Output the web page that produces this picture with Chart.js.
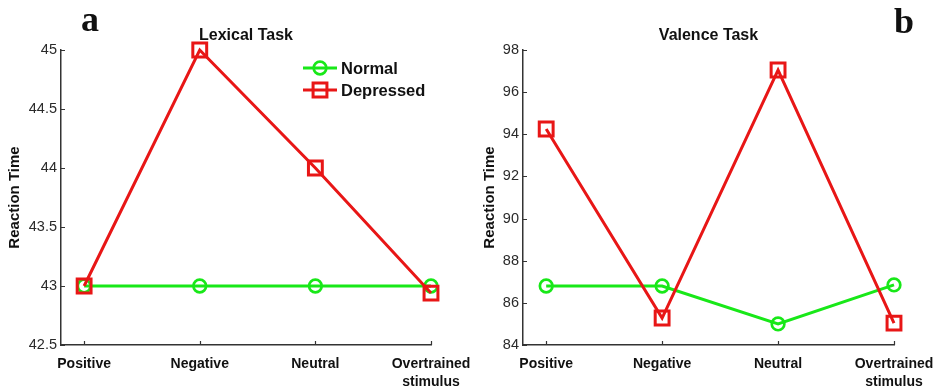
<!DOCTYPE html>
<html>
<head>
<meta charset="utf-8">
<script src="https://cdn.jsdelivr.net/npm/chart.js@4/dist/chart.umd.min.js"></script>
<style>
  html, body { margin: 0; padding: 0; background: #fff; }
  #wrap { position: relative; width: 938px; height: 389px; overflow: hidden; }
  .panel { position: absolute; top: 0; height: 389px; }
</style>
</head>
<body>
<div id="wrap">
  <div class="panel" style="left:0;width:470px"><canvas id="lexical" width="470" height="389"></canvas></div>
  <div class="panel" style="left:470px;width:468px"><canvas id="valence" width="468" height="389"></canvas></div>
</div>
<script>
// Stimulus categories along the x axis
const categories = ['Positive', 'Negative', 'Neutral', ['Overtrained', 'stimulus']];
const seriesNames = ['Normal', 'Depressed'];

// Mean reaction times, lexical task
const lexicalNormal    = [43, 43, 43, 43];
const lexicalDepressed = [43, 45, 44, 42.94];

// Mean reaction times, valence task
const valenceNormal    = [86.8, 86.8, 85.0, 86.85];
const valenceDepressed = [94.25, 85.28, 97.05, 85.04];

// Y tick values
const lexicalTicks = [42.5, 43, 43.5, 44, 44.5, 45];
const valenceTicks = [84, 86, 88, 90, 92, 94, 96, 98];

const GREEN = 'rgb(24,232,24)';
const RED = 'rgb(232,22,22)';
const AXIS = '#333';
const SANS = '"Liberation Sans", Arial, Helvetica, sans-serif';
const SERIF = '"Liberation Serif", "Times New Roman", serif';

Chart.defaults.font.family = SANS;

const toPoints = vals => vals.map((v, i) => ({ x: i + 1, y: v }));

// MATLAB-style tick marks pointing into the plot area
const inwardTicks = {
  id: 'inwardTicks',
  afterDraw(chart) {
    const { ctx, chartArea } = chart;
    const len = 4;
    ctx.save();
    ctx.strokeStyle = AXIS;
    ctx.lineWidth = 1.2;
    ctx.beginPath();
    chart.scales.x.ticks.forEach(t => {
      const px = Math.round(chart.scales.x.getPixelForValue(t.value)) + 0.5;
      ctx.moveTo(px, chartArea.bottom);
      ctx.lineTo(px, chartArea.bottom - len);
    });
    chart.scales.y.ticks.forEach(t => {
      const py = Math.round(chart.scales.y.getPixelForValue(t.value)) + 0.5;
      ctx.moveTo(chartArea.left, py);
      ctx.lineTo(chartArea.left + len, py);
    });
    ctx.stroke();
    ctx.restore();
  }
};

// Panel heading, panel letter and optional in-plot legend
const decorations = {
  id: 'decorations',
  afterDraw(chart, args, opts) {
    const { ctx, chartArea } = chart;
    ctx.save();
    ctx.fillStyle = '#111';
    ctx.textAlign = 'center';
    ctx.textBaseline = 'alphabetic';
    ctx.font = 'bold 16px ' + SANS;
    ctx.fillText(opts.heading, (chartArea.left + chartArea.right) / 2, 40);

    ctx.font = 'bold 36px ' + SERIF;
    ctx.fillText(opts.letter, opts.letterX, opts.letterY);

    if (opts.legend) {
      const lx0 = 303, lx1 = 337, tx = 341;
      const rows = [68, 90];
      chart.data.datasets.forEach((ds, i) => {
        const y = rows[i];
        ctx.strokeStyle = ds.borderColor;
        ctx.lineWidth = ds.borderWidth;
        ctx.beginPath();
        ctx.moveTo(lx0, y);
        ctx.lineTo(lx1, y);
        ctx.stroke();
        ctx.fillStyle = 'rgba(0,0,0,0)';
        ctx.lineWidth = ds.pointBorderWidth;
        Chart.helpers.drawPoint(ctx, {
          pointStyle: ds.pointStyle,
          radius: ds.pointRadius,
          borderWidth: ds.pointBorderWidth,
          rotation: 0
        }, (lx0 + lx1) / 2, y);
        ctx.fillStyle = '#111';
        ctx.textAlign = 'left';
        ctx.textBaseline = 'middle';
        ctx.font = 'bold 16.5px ' + SANS;
        ctx.fillText(ds.label, tx, y + 1);
      });
    }
    ctx.restore();
  }
};

function makeDataset(label, values, color, style) {
  const circle = style === 'circle';
  return {
    label,
    data: toPoints(values),
    borderColor: color,
    backgroundColor: color,
    borderWidth: 3,
    tension: 0,
    pointStyle: style,
    pointRadius: circle ? 6.3 : 9.8,
    pointBorderWidth: circle ? 2.7 : 3,
    pointBackgroundColor: 'rgba(0,0,0,0)',
    pointBorderColor: color,
    order: circle ? 1 : 0,
    clip: false
  };
}

function noEdgePadding(s) {
  s.paddingLeft = 0;
  s.paddingRight = 0;
  s.paddingTop = 0;
  s.paddingBottom = 0;
}

function makeChart(id, normal, depressed, yTicks, cfg) {
  return new Chart(document.getElementById(id), {
    type: 'line',
    data: {
      datasets: [
        makeDataset(seriesNames[0], normal, GREEN, 'circle'),
        makeDataset(seriesNames[1], depressed, RED, 'rect')
      ]
    },
    options: {
      responsive: false,
      animation: false,
      devicePixelRatio: 1,
      events: [],
      layout: { padding: { top: 50, right: cfg.rightPad, left: 0, bottom: 0 } },
      scales: {
        x: {
          type: 'linear',
          min: 0.8,
          max: categories.length,
          afterBuildTicks: s => { s.ticks = categories.map((c, i) => ({ value: i + 1 })); },
          afterFit: s => { s.height = 44; noEdgePadding(s); },
          grid: { display: false, drawTicks: false, tickLength: 0 },
          border: { display: true, color: AXIS, width: 1.5 },
          ticks: {
            autoSkip: false,
            maxRotation: 0,
            padding: 10,
            color: '#111',
            font: { size: 14, weight: 'bold', lineHeight: 1.3 },
            callback: v => categories[Math.round(v) - 1]
          }
        },
        y: {
          type: 'linear',
          min: yTicks[0],
          max: yTicks[yTicks.length - 1],
          afterBuildTicks: s => { s.ticks = yTicks.map(v => ({ value: v })); },
          afterFit: s => { s.width = cfg.yWidth; noEdgePadding(s); },
          grid: { display: false, drawTicks: false, tickLength: 0 },
          border: { display: true, color: AXIS, width: 1.5 },
          ticks: {
            padding: 4,
            color: '#2a2a2a',
            font: { size: 14.5 },
            callback: v => String(v)
          },
          title: {
            display: true,
            text: 'Reaction Time',
            color: '#111',
            font: { size: 15, weight: 'bold' },
            padding: { top: cfg.titlePad, bottom: 0 }
          }
        }
      },
      plugins: {
        legend: { display: false },
        tooltip: { enabled: false },
        decorations: cfg.deco
      }
    },
    plugins: [inwardTicks, decorations]
  });
}

makeChart('lexical', lexicalNormal, lexicalDepressed, lexicalTicks, {
  rightPad: 39, yWidth: 61, titlePad: 6,
  deco: { heading: 'Lexical Task', letter: 'a', letterX: 90, letterY: 31, legend: true }
});

makeChart('valence', valenceNormal, valenceDepressed, valenceTicks, {
  rightPad: 44, yWidth: 53, titlePad: 11,
  deco: { heading: 'Valence Task', letter: 'b', letterX: 434, letterY: 33, legend: false }
});
</script>
</body>
</html>
